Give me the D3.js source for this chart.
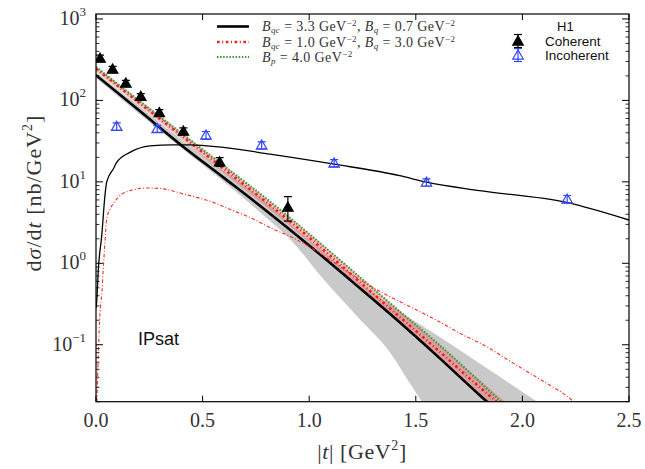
<!DOCTYPE html>
<html>
<head>
<meta charset="utf-8">
<script src="https://cdn.jsdelivr.net/npm/d3@7"></script>
<style>
  body { margin: 0; background: #fff; }
  svg { display: block; }
</style>
</head>
<body>
<div id="chart-area"></div>
<script>
/*
*   IPsat: coherent and incoherent J/psi cross sections vs |t|
*/

// ---- data ----
// H1 coherent points
var cohT   = [0.019, 0.078, 0.14, 0.21, 0.297, 0.41, 0.58, 0.90];
var cohVal = [330, 242, 163, 112, 71, 42, 17.6, 4.9];
var cohLo  = [300, 222, 150, 103, 65, 38, 15.5, 3.3];
var cohHi  = [360, 262, 176, 121, 77, 46, 19.8, 6.6];

// H1 incoherent points
var incT   = [0.097, 0.287, 0.516, 0.777, 1.117, 1.55, 2.21];
var incVal = [48, 45, 37.5, 28.3, 17, 9.9, 6.15];
var incLo  = [43, 40.5, 33.5, 25.5, 15.3, 8.9, 5.5];
var incHi  = [53, 49.5, 41.5, 31, 18.7, 10.9, 6.8];

// coherent curves
var tCoh      = [0, 0.2, 0.4, 0.6, 0.8, 1.0, 1.2, 1.4, 1.6, 1.8, 1.9, 2.0];
var cohBlack  = [204, 76, 28.2, 11.2, 4.4, 1.66, 0.6, 0.214, 0.073, 0.024, 0.014, 0.008];
var cohRed    = [245, 95, 37, 14.4, 5.6, 2.07, 0.72, 0.25, 0.0875, 0.030, 0.018, 0.011];
var cohGreen  = [257, 100, 39.5, 15.6, 6.2, 2.29, 0.82, 0.29, 0.105, 0.035, 0.02, 0.012];
var pinkLower = [228, 87, 33.5, 12.8, 4.9, 1.8, 0.62, 0.21, 0.072, 0.024, 0.014, 0.0085];
var pinkUpper = [262, 103, 41, 16.2, 6.3, 2.35, 0.84, 0.3, 0.106, 0.037, 0.022, 0.013];

// grey uncertainty band of the black coherent curve
var tGrey     = [0, 0.2, 0.4, 0.6, 0.8, 0.909, 1.066, 1.222, 1.378, 1.488, 1.6, 1.8, 2.0, 2.1];
var greyUpper = [222, 86, 33, 13.6, 5.6, 3.1, 1.4, 0.62, 0.31, 0.2, 0.131, 0.059, 0.0264, 0.0177];
var greyLower = [188, 69, 26, 10, 3.6, 1.99, 0.64, 0.227, 0.081, 0.029, 0.011, 0.005, 0.003, 0.002];

// incoherent curves
var tIncBlack = [0.0, 0.003, 0.011, 0.027, 0.042, 0.05, 0.081, 0.097, 0.159, 0.253, 0.36, 0.44, 0.597, 0.816, 1.117, 1.425, 1.55, 1.80, 2.206, 2.5];
var incBlack  = [0.28, 0.33, 0.85, 2.2, 6.8, 9.9, 14.4, 17.3, 23, 27.7, 28.5, 28.5, 26.5, 21.9, 16.5, 11.9, 9.9, 7.8, 5.6, 3.4];
var tIncRed   = [0.004, 0.019, 0.028, 0.034, 0.042, 0.05, 0.066, 0.097, 0.159, 0.238, 0.316, 0.394, 0.472, 0.55, 0.628, 0.722, 0.831, 0.909, 1.0, 1.269, 1.613, 1.722, 1.832, 1.925, 2.066, 2.128, 2.206, 2.25];
var incRed    = [0.02, 0.25, 0.45, 0.85, 1.8, 3.5, 4.6, 6.15, 7.8, 8.4, 8.2, 7.3, 6.45, 5.6, 4.6, 3.66, 2.63, 2.15, 1.6, 0.56, 0.19, 0.132, 0.095, 0.067, 0.04, 0.032, 0.0237, 0.019];

var xTicks = [0, 0.5, 1.0, 1.5, 2.0, 2.5];
var xTickLabels = ["0.0", "0.5", "1.0", "1.5", "2.0", "2.5"];
var yTicks = [0.1, 1, 10, 100, 1000];
var yTickExp = ["\u22121", "0", "1", "2", "3"];

// ---- layout ----
var margin = { left: 96, right: 16, top: 14, bottom: 67.3 };
var width = 645 - margin.left - margin.right,
    height = 469 - margin.top - margin.bottom;

var svg = d3.select("#chart-area")
    .append("svg")
        .attr("width", 645)
        .attr("height", 469);
var g = svg.append("g")
    .attr("transform", "translate(" + margin.left + "," + margin.top + ")");

var serif = "'Liberation Serif', 'Times New Roman', serif";
var sans = "'Liberation Sans', Arial, sans-serif";

// Scales
var x = d3.scaleLinear().domain([0, 2.5]).range([0, width]);
var y = d3.scaleLog().domain([0.02, 1150]).range([height, 0]);

g.append("clipPath").attr("id", "plot-clip")
  .append("rect").attr("width", width).attr("height", height);
var plot = g.append("g").attr("clip-path", "url(#plot-clip)");

function pts(ts, vs) { return ts.map(function(t, i){ return [t, vs[i]]; }); }
function bandPts(ts, lo, hi) { return ts.map(function(t, i){ return [t, lo[i], hi[i]]; }); }

var line = d3.line()
    .x(function(d){ return x(d[0]); })
    .y(function(d){ return y(d[1]); })
    .curve(d3.curveMonotoneX);
var area = d3.area()
    .x(function(d){ return x(d[0]); })
    .y0(function(d){ return y(d[1]); })
    .y1(function(d){ return y(d[2]); })
    .curve(d3.curveMonotoneX);

// Bands
plot.append("path")
    .attr("d", area(bandPts(tGrey, greyLower, greyUpper)))
    .attr("fill", "#c9c9c9");
plot.append("path")
    .attr("d", area(bandPts(tCoh, pinkLower, pinkUpper)))
    .attr("fill", "rgb(232,110,110)")
    .attr("fill-opacity", 0.45);

// Coherent curves
plot.append("path").attr("d", line(pts(tCoh, cohBlack)))
    .attr("fill", "none").attr("stroke", "#000").attr("stroke-width", 2.6);
plot.append("path").attr("d", line(pts(tCoh, cohRed)))
    .attr("fill", "none").attr("stroke", "#ff1a1a").attr("stroke-width", 2.6)
    .attr("stroke-dasharray", "2.6,2.6,1,2.6");
plot.append("path").attr("d", line(pts(tCoh, cohGreen)))
    .attr("fill", "none").attr("stroke", "#3a9a3a").attr("stroke-width", 2.2)
    .attr("stroke-dasharray", "1.5,1.6");

// Incoherent curves
plot.append("path").attr("d", line(pts(tIncBlack, incBlack)))
    .attr("fill", "none").attr("stroke", "#000").attr("stroke-width", 1.3);
plot.append("path").attr("d", line(pts(tIncRed, incRed)))
    .attr("fill", "none").attr("stroke", "#ff2a2a").attr("stroke-width", 1.1)
    .attr("stroke-dasharray", "3.5,2,1,2");

// Data points
var tri = d3.symbol().type(d3.symbolTriangle).size(48);

function drawPoints(ts, vs, lo, hi, colour, filled) {
    ts.forEach(function(t, i){
        var px = x(t), yl = y(lo[i]), yh = y(hi[i]);
        var bar = plot.append("g").attr("stroke", colour).attr("stroke-width", 1.2);
        bar.append("line").attr("x1", px).attr("x2", px).attr("y1", yl).attr("y2", yh);
        bar.append("line").attr("x1", px - 4).attr("x2", px + 4).attr("y1", yl).attr("y2", yl);
        bar.append("line").attr("x1", px - 4).attr("x2", px + 4).attr("y1", yh).attr("y2", yh);
        plot.append("path")
            .attr("d", tri)
            .attr("transform", "translate(" + px + "," + (y(vs[i]) + 1) + ")")
            .attr("fill", filled ? colour : "none")
            .attr("stroke", colour)
            .attr("stroke-width", 1.2);
    });
}
drawPoints(incT, incVal, incLo, incHi, "#3345ff", false);
drawPoints(cohT, cohVal, cohLo, cohHi, "#000", true);

// Frame
g.append("rect")
    .attr("width", width).attr("height", height)
    .attr("fill", "none").attr("stroke", "#000").attr("stroke-width", 1.2);

// X ticks (bottom and top, inward)
xTicks.forEach(function(t, i){
    g.append("line").attr("x1", x(t)).attr("x2", x(t))
        .attr("y1", height).attr("y2", height - 6).attr("stroke", "#000");
    g.append("line").attr("x1", x(t)).attr("x2", x(t))
        .attr("y1", 0).attr("y2", 6).attr("stroke", "#000");
    g.append("text")
        .attr("x", x(t)).attr("y", height + 25.5)
        .attr("text-anchor", "middle")
        .attr("font-family", serif).attr("font-size", "20px")
        .attr("fill", "#333")
        .text(xTickLabels[i]);
});

// Y ticks (left and right, inward), minor ticks on the log scale
var minor = [];
[0.01, 0.1, 1, 10, 100, 1000].forEach(function(dec){
    for (var k = 2; k <= 9; k++) {
        var v = dec * k;
        if (v >= 0.02 && v <= 1150) minor.push(v);
    }
});
minor.forEach(function(v){
    g.append("line").attr("x1", 0).attr("x2", 3.5)
        .attr("y1", y(v)).attr("y2", y(v)).attr("stroke", "#000").attr("stroke-width", 0.8);
    g.append("line").attr("x1", width).attr("x2", width - 3.5)
        .attr("y1", y(v)).attr("y2", y(v)).attr("stroke", "#000").attr("stroke-width", 0.8);
});
yTicks.forEach(function(v, i){
    g.append("line").attr("x1", 0).attr("x2", 7)
        .attr("y1", y(v)).attr("y2", y(v)).attr("stroke", "#000");
    g.append("line").attr("x1", width).attr("x2", width - 7)
        .attr("y1", y(v)).attr("y2", y(v)).attr("stroke", "#000");
    var lbl = g.append("text")
        .attr("x", -10).attr("y", y(v) + 6)
        .attr("text-anchor", "end")
        .attr("font-family", serif).attr("font-size", "20px")
        .attr("fill", "#333");
    lbl.append("tspan").text("10");
    lbl.append("tspan").attr("font-size", "13px").attr("dy", -9).text(yTickExp[i]);
});

// Axis labels
var xLabel = svg.append("text")
    .attr("x", 362).attr("y", 459)
    .attr("text-anchor", "middle")
    .attr("font-family", serif).attr("font-size", "22px")
    .attr("letter-spacing", "0.6px")
    .attr("fill", "#333");
xLabel.append("tspan").text("|");
xLabel.append("tspan").attr("font-style", "italic").text("t");
xLabel.append("tspan").text("|  [GeV");
xLabel.append("tspan").attr("font-size", "14px").attr("dy", -9).text("2");
xLabel.append("tspan").attr("dy", 9).text("]");

var yLabel = svg.append("text")
    .attr("transform", "translate(41,193) rotate(-90)")
    .attr("text-anchor", "middle")
    .attr("font-family", serif).attr("font-size", "22px")
    .attr("letter-spacing", "1px")
    .attr("fill", "#333");
yLabel.append("tspan").text("d");
yLabel.append("tspan").attr("font-style", "italic").text("\u03C3");
yLabel.append("tspan").text("/d");
yLabel.append("tspan").attr("font-style", "italic").text("t");
yLabel.append("tspan").text("  [nb/GeV");
yLabel.append("tspan").attr("font-size", "14px").attr("dy", -9).text("2");
yLabel.append("tspan").attr("dy", 9).text("]");

// IPsat label
svg.append("text")
    .attr("x", 138).attr("y", 345)
    .attr("font-family", sans).attr("font-size", "18px")
    .attr("fill", "#111")
    .text("IPsat");

// Legend (model curves)
var legendRows = [
    { colour: "#000", width: 2.6, dash: null,
      parts: [["B","i"],["qc","sub"],[" = 3.3 GeV",""],["\u22122","sup"],[", ",""],["B","i"],["q","sub"],[" = 0.7 GeV",""],["\u22122","sup"]] },
    { colour: "#ff1a1a", width: 2.6, dash: "2.6,2.6,1,2.6",
      parts: [["B","i"],["qc","sub"],[" = 1.0 GeV",""],["\u22122","sup"],[", ",""],["B","i"],["q","sub"],[" = 3.0 GeV",""],["\u22122","sup"]] },
    { colour: "#3a9a3a", width: 2.2, dash: "1.5,1.6",
      parts: [["B","i"],["p","sub"],[" = 4.0 GeV",""],["\u22122","sup"]] }
];
var legendY = [26.5, 42, 57];

legendRows.forEach(function(row, i){
    svg.append("line")
        .attr("x1", 217).attr("x2", 249)
        .attr("y1", legendY[i]).attr("y2", legendY[i])
        .attr("stroke", row.colour).attr("stroke-width", row.width)
        .attr("stroke-dasharray", row.dash);
    var txt = svg.append("text")
        .attr("x", 262).attr("y", legendY[i] + 4.5)
        .attr("font-family", serif).attr("font-size", "14px")
        .attr("letter-spacing", "0.4px")
        .attr("fill", "#333");
    row.parts.forEach(function(p){
        var ts = txt.append("tspan").text(p[0]);
        if (p[1] == "i") ts.attr("font-style", "italic");
        if (p[1] == "sub") ts.attr("font-style", "italic").attr("font-size", "9px").attr("baseline-shift", "-2px");
        if (p[1] == "sup") ts.attr("font-size", "9px").attr("baseline-shift", "5px");
    });
});

// Legend (H1 data)
svg.append("text")
    .attr("x", 557).attr("y", 31)
    .attr("font-family", sans).attr("font-size", "13px").attr("fill", "#111")
    .text("H1");
var dataLegend = [
    { label: "Coherent", colour: "#000", filled: true, y: 41.5 },
    { label: "Incoherent", colour: "#3345ff", filled: false, y: 55.5 }
];
dataLegend.forEach(function(d){
    var lg = svg.append("g").attr("stroke", d.colour).attr("stroke-width", 1.2);
    lg.append("line").attr("x1", 518).attr("x2", 518).attr("y1", d.y - 7).attr("y2", d.y + 6);
    lg.append("line").attr("x1", 514).attr("x2", 522).attr("y1", d.y - 7).attr("y2", d.y - 7);
    lg.append("line").attr("x1", 514).attr("x2", 522).attr("y1", d.y + 6).attr("y2", d.y + 6);
    svg.append("path")
        .attr("d", tri)
        .attr("transform", "translate(518," + (d.y + 0.5) + ")")
        .attr("fill", d.filled ? d.colour : "none")
        .attr("stroke", d.colour).attr("stroke-width", 1.2);
    svg.append("text")
        .attr("x", 545).attr("y", d.y + 4.5)
        .attr("font-family", sans).attr("font-size", "13.5px").attr("fill", "#111")
        .text(d.label);
});
</script>
</body>
</html>
